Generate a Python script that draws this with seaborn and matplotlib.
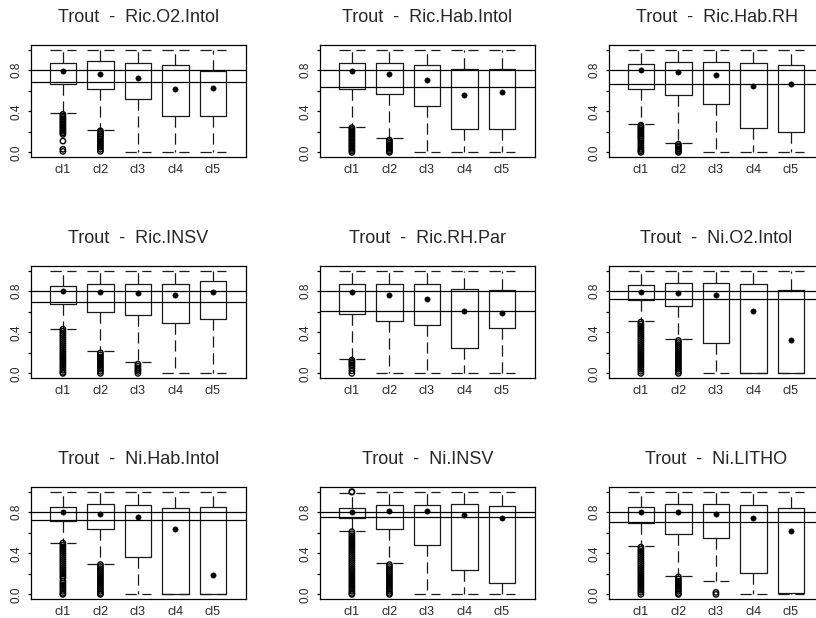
import matplotlib
matplotlib.use("Agg")
import matplotlib.pyplot as plt
import pandas as pd
import seaborn as sns

# ---------------------------------------------------------------- data
SPECIES = "Trout"
CLASSES = ["cl1", "cl2", "cl3", "cl4", "cl5"]
INDICES = ["Ric.O2.Intol", "Ric.Hab.Intol", "Ric.Hab.RH",
           "Ric.INSV", "Ric.RH.Par", "Ni.O2.Intol",
           "Ni.Hab.Intol", "Ni.INSV", "Ni.LITHO"]

# reference thresholds drawn across every panel
REF_HIGH = 0.8
REF_LOW = [0.683, 0.634, 0.663, 0.699, 0.611, 0.722, 0.728, 0.754, 0.709]

# box summaries per index (rows) and class (columns)
Q3 = [
    [0.868, 0.885, 0.868, 0.852, 0.793],
    [0.868, 0.868, 0.849, 0.810, 0.810],
    [0.859, 0.878, 0.878, 0.868, 0.849],
    [0.846, 0.872, 0.872, 0.872, 0.898],
    [0.866, 0.872, 0.866, 0.826, 0.807],
    [0.856, 0.879, 0.879, 0.866, 0.813],
    [0.852, 0.878, 0.869, 0.842, 0.852],
    [0.839, 0.869, 0.869, 0.882, 0.859],
    [0.849, 0.875, 0.875, 0.869, 0.836],
]
Q1 = [
    [0.667, 0.615, 0.517, 0.358, 0.358],
    [0.615, 0.569, 0.455, 0.228, 0.228],
    [0.621, 0.559, 0.468, 0.234, 0.195],
    [0.676, 0.598, 0.565, 0.490, 0.532],
    [0.575, 0.510, 0.467, 0.248, 0.441],
    [0.712, 0.653, 0.300, 0.000, 0.000],
    [0.712, 0.640, 0.362, 0.000, 0.000],
    [0.744, 0.640, 0.483, 0.235, 0.114],
    [0.696, 0.591, 0.546, 0.212, 0.016],
]
WHISK_LO = [
    [0.380, 0.218, 0.0, 0.0, 0.0],
    [0.250, 0.137, 0.0, 0.0, 0.0],
    [0.273, 0.088, 0.0, 0.0, 0.0],
    [0.434, 0.216, 0.108, 0.0, 0.0],
    [0.140, 0.0, 0.0, 0.0, 0.0],
    [0.506, 0.330, 0.0, 0.0, 0.0],
    [0.503, 0.294, 0.0, 0.0, 0.0],
    [0.614, 0.304, 0.0, 0.0, 0.0],
    [0.467, 0.180, 0.127, 0.0, 0.0],
]
WHISK_HI = [
    [1.0, 1.0, 1.0, 1.0, 1.0],
    [1.0, 1.0, 1.0, 1.0, 1.0],
    [1.0, 1.0, 1.0, 1.0, 1.0],
    [1.0, 1.0, 1.0, 1.0, 1.0],
    [1.0, 1.0, 1.0, 1.0, 1.0],
    [1.0, 1.0, 1.0, 1.0, 1.0],
    [1.0, 1.0, 1.0, 1.0, 1.0],
    [0.986, 1.0, 1.0, 1.0, 1.0],
    [1.0, 1.0, 1.0, 1.0, 1.0],
]
MEANS = [
    [0.793, 0.764, 0.728, 0.615, 0.631],
    [0.790, 0.761, 0.702, 0.563, 0.585],
    [0.797, 0.787, 0.754, 0.650, 0.663],
    [0.800, 0.790, 0.787, 0.761, 0.790],
    [0.795, 0.761, 0.728, 0.604, 0.585],
    [0.795, 0.787, 0.767, 0.611, 0.323],
    [0.800, 0.780, 0.754, 0.637, 0.193],
    [0.800, 0.810, 0.810, 0.774, 0.741],
    [0.800, 0.797, 0.787, 0.745, 0.617],
]

# outlying sites per class, one list per index
OUT_RIC_O2_INTOL = [
    [0.37, 0.355, 0.34, 0.325, 0.31, 0.295, 0.28, 0.265, 0.25, 0.235, 0.22,
     0.205, 0.19, 0.175, 0.11, 0.03, 0.01],
    [0.21, 0.195, 0.18, 0.165, 0.15, 0.13, 0.11, 0.09, 0.07, 0.05, 0.03, 0.01],
    [], [], [],
]
OUT_RIC_HAB_INTOL = [
    [0.24, 0.225, 0.21, 0.195, 0.18, 0.165, 0.15, 0.135, 0.12, 0.105, 0.09,
     0.075, 0.06, 0.045, 0.03, 0.015, 0.0],
    [0.12, 0.105, 0.09, 0.075, 0.06, 0.045, 0.03, 0.015, 0.0],
    [], [], [],
]
OUT_RIC_HAB_RH = [
    [0.265, 0.25, 0.235, 0.22, 0.205, 0.19, 0.175, 0.16, 0.145, 0.13, 0.11,
     0.09, 0.07, 0.05, 0.03, 0.015, 0.0],
    [0.08, 0.065, 0.05, 0.035, 0.02, 0.01, 0.0],
    [], [], [],
]
OUT_RIC_INSV = [
    [0.43, 0.41, 0.39, 0.37, 0.35, 0.33, 0.31, 0.29, 0.27, 0.25, 0.23, 0.21,
     0.19, 0.17, 0.15, 0.13, 0.11, 0.09, 0.07, 0.05, 0.03, 0.01, 0.0],
    [0.20, 0.18, 0.16, 0.14, 0.12, 0.10, 0.08, 0.06, 0.04, 0.02, 0.0],
    [0.09, 0.07, 0.05, 0.035, 0.02, 0.0],
    [], [],
]
OUT_RIC_RH_PAR = [
    [0.13, 0.115, 0.10, 0.085, 0.07, 0.05, 0.025, 0.0],
    [], [], [], [],
]
OUT_NI_O2_INTOL = [
    [0.50, 0.48, 0.46, 0.44, 0.42, 0.40, 0.38, 0.36, 0.34, 0.32, 0.30, 0.28,
     0.26, 0.24, 0.22, 0.20, 0.18, 0.16, 0.14, 0.12, 0.10, 0.08, 0.06, 0.04,
     0.02, 0.0],
    [0.32, 0.30, 0.28, 0.26, 0.24, 0.22, 0.20, 0.18, 0.16, 0.14, 0.12, 0.10,
     0.08, 0.06, 0.04, 0.02, 0.0],
    [], [], [],
]
OUT_NI_HAB_INTOL = [
    [0.50, 0.48, 0.46, 0.44, 0.42, 0.40, 0.38, 0.36, 0.34, 0.32, 0.30, 0.28,
     0.26, 0.24, 0.22, 0.20, 0.18, 0.16, 0.13, 0.11, 0.09, 0.07, 0.05, 0.03,
     0.01, 0.0],
    [0.29, 0.27, 0.25, 0.23, 0.21, 0.19, 0.17, 0.15, 0.13, 0.11, 0.09, 0.07,
     0.05, 0.03, 0.01, 0.0],
    [], [], [],
]
OUT_NI_INSV = [
    [1.0, 0.995, 0.61, 0.59, 0.57, 0.55, 0.53, 0.51, 0.49, 0.47, 0.45, 0.43,
     0.41, 0.39, 0.37, 0.35, 0.33, 0.31, 0.29, 0.27, 0.25, 0.23, 0.21, 0.19,
     0.17, 0.15, 0.13, 0.11, 0.09, 0.07, 0.05, 0.03, 0.01, 0.0],
    [0.29, 0.27, 0.25, 0.23, 0.21, 0.19, 0.17, 0.15, 0.13, 0.11, 0.09, 0.07,
     0.05, 0.03, 0.01, 0.0],
    [], [], [],
]
OUT_NI_LITHO = [
    [0.46, 0.44, 0.42, 0.40, 0.38, 0.36, 0.34, 0.32, 0.30, 0.28, 0.26, 0.24,
     0.22, 0.20, 0.18, 0.16, 0.14, 0.12, 0.10, 0.08, 0.06, 0.04, 0.02, 0.0],
    [0.17, 0.15, 0.13, 0.11, 0.09, 0.07, 0.05, 0.03, 0.01, 0.0],
    [0.02, 0.0],
    [], [],
]
OUTLIERS = [OUT_RIC_O2_INTOL, OUT_RIC_HAB_INTOL, OUT_RIC_HAB_RH,
            OUT_RIC_INSV, OUT_RIC_RH_PAR, OUT_NI_O2_INTOL,
            OUT_NI_HAB_INTOL, OUT_NI_INSV, OUT_NI_LITHO]

Y_TICKS = [0.0, 0.2, 0.4, 0.6, 0.8, 1.0]
Y_TICK_LABELS = ["0.0", "", "0.4", "", "0.8", ""]

# ---------------------------------------------------------------- style
sns.set_style("ticks")
plt.rcParams["font.family"] = ["Liberation Sans", "DejaVu Sans"]
plt.rcParams["text.hinting"] = "force_autohint"

W, H = 816, 618
fig = plt.figure(figsize=(W / 100, H / 100), dpi=100)
fig.patch.set_facecolor("white")

LINE = "#1a1a1a"
LW = 0.9
DASH = (0, (9, 4.5))

col_left = [31, 320, 609]
row_top = [45, 266, 487]
ax_w, ax_h = 215, 112
positions = list(range(1, len(CLASSES) + 1))

for i, index_name in enumerate(INDICES):
    r, c = divmod(i, 3)
    ax = fig.add_axes([col_left[c] / W, 1 - (row_top[r] + ax_h) / H,
                       ax_w / W, ax_h / H])
    ax.set_facecolor("white")

    stats = [dict(q1=Q1[i][k], q3=Q3[i][k], med=Q1[i][k],
                  whislo=WHISK_LO[i][k], whishi=WHISK_HI[i][k], fliers=[])
             for k in range(len(CLASSES))]
    ax.bxp(stats, positions=positions, widths=0.71, capwidths=0.71,
           showfliers=False, manage_ticks=False,
           boxprops=dict(color=LINE, linewidth=LW),
           whiskerprops=dict(color=LINE, linewidth=LW, linestyle=DASH),
           capprops=dict(color=LINE, linewidth=LW, linestyle=DASH),
           medianprops=dict(linewidth=0))

    ax.axhline(REF_HIGH, color="black", linewidth=LW, zorder=3)
    ax.axhline(REF_LOW[i], color="black", linewidth=LW, zorder=3)

    out_df = pd.DataFrame(
        [(positions[k], v) for k in range(len(CLASSES)) for v in OUTLIERS[i][k]],
        columns=["pos", "value"])
    if len(out_df):
        sns.scatterplot(data=out_df, x="pos", y="value", ax=ax, marker="o",
                        s=15, color="black", edgecolor="black",
                        linewidth=1.0, legend=False, zorder=4)
        ax.collections[-1].set_facecolor("none")

    mean_df = pd.DataFrame({"pos": positions, "value": MEANS[i]})
    sns.scatterplot(data=mean_df, x="pos", y="value", ax=ax, marker="o",
                    s=15, color="black", edgecolor="black", linewidth=0.3,
                    legend=False, zorder=5)

    ax.set_xlim(0.15, 5.88)
    ax.set_ylim(-0.045, 1.045)
    ax.set_xticks(positions)
    ax.set_xticklabels(CLASSES, fontsize=9)
    ax.set_yticks(Y_TICKS)
    ax.set_yticklabels(Y_TICK_LABELS, fontsize=8.5, rotation=90, va="center")
    ax.tick_params(axis="x", length=0, pad=5)
    ax.tick_params(axis="y", length=2.2, width=LW, pad=4.0, color="black")
    ax.set_xlabel("")
    ax.set_ylabel("")
    for sp in ax.spines.values():
        sp.set_visible(True)
        sp.set_color("black")
        sp.set_linewidth(LW)
    ax.set_title(f"{SPECIES}  -  {index_name}", fontsize=13, pad=16.5)

fig.savefig("out.png", dpi=100, facecolor="white")
